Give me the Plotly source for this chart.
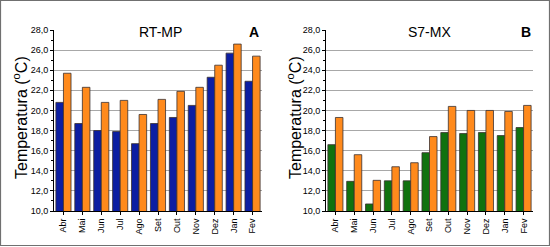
import plotly.graph_objects as go

months = ["Abr", "Mai", "Jun", "Jul", "Ago", "Set", "Out", "Nov", "Dez", "Jan", "Fev"]

rtmp_blue = [20.8, 18.7, 18.0, 17.9, 16.7, 18.7, 19.3, 20.5, 23.3, 25.7, 22.9]
rtmp_orange = [23.7, 22.3, 20.8, 21.0, 19.6, 21.1, 21.9, 22.3, 24.5, 26.6, 25.4]

s7mx_green = [16.6, 12.95, 10.7, 13.0, 13.0, 15.8, 17.8, 17.7, 17.8, 17.5, 18.3]
s7mx_orange = [19.3, 15.6, 13.05, 14.4, 14.8, 17.4, 20.4, 20.0, 20.0, 19.9, 20.5]

y_ticks = [10, 12, 14, 16, 18, 20, 22, 24, 26, 28]

W, H = 550, 247
def px(x):
    return x / W
def py(y):
    return 1 - y / H

BLUE = "#0c1ea2"
ORANGE = "#ff8a1c"
GREEN = "#10720f"
FONT = "Liberation Sans, Arial, sans-serif"

fig = go.Figure()
line = dict(color="#3a3030", width=0.8)
fig.add_trace(go.Bar(x=months, y=rtmp_blue, marker=dict(color=BLUE, line=line), xaxis="x", yaxis="y"))
fig.add_trace(go.Bar(x=months, y=rtmp_orange, marker=dict(color=ORANGE, line=line), xaxis="x", yaxis="y"))
fig.add_trace(go.Bar(x=months, y=s7mx_green, marker=dict(color=GREEN, line=line), xaxis="x2", yaxis="y2"))
fig.add_trace(go.Bar(x=months, y=s7mx_orange, marker=dict(color=ORANGE, line=line), xaxis="x2", yaxis="y2"))

xax = dict(showline=True, linecolor="black", linewidth=1, ticks="outside", ticklen=3,
           tickcolor="black", tickangle=-90, tickfont=dict(size=9, color="black", family=FONT),
           showgrid=False, zeroline=False, fixedrange=True, automargin=False)
yax = dict(range=[10, 28], tickvals=y_ticks, tickformat=".1f", showline=True, linecolor="black",
           linewidth=1, ticks="outside", ticklen=3, tickcolor="black",
           tickfont=dict(size=9, color="black", family=FONT),
           showgrid=True, gridcolor="#a8a8a8", gridwidth=1, zeroline=False,
           minor=dict(ticks="outside", ticklen=2, dtick=1, tickcolor="black", showgrid=False),
           fixedrange=True, automargin=False)

ydom = [py(211), py(30)]
fig.update_layout(
    width=W, height=H, margin=dict(l=0, r=0, t=0, b=0, pad=0),
    paper_bgcolor="white", plot_bgcolor="white",
    separators=",.",
    showlegend=False, barmode="group", bargap=0.2, bargroupgap=0,
    xaxis=dict(domain=[px(54), px(262)], anchor="y", **xax),
    yaxis=dict(domain=ydom, anchor="x", **yax),
    xaxis2=dict(domain=[px(326), px(533)], anchor="y2", **xax),
    yaxis2=dict(domain=ydom, anchor="x2", **yax),
    font=dict(family=FONT, color="black"),
)

ann = [
    dict(text="RT-MP", x=px(160), y=py(32), font=dict(size=14)),
    dict(text="<b>A</b>", x=px(254), y=py(32), font=dict(size=14)),
    dict(text="S7-MX", x=px(429), y=py(32), font=dict(size=14)),
    dict(text="<b>B</b>", x=px(526), y=py(32), font=dict(size=14)),
    dict(text="Temperatura (<sup>o</sup>C)", x=px(20), y=py(118), textangle=-90, font=dict(size=16)),
    dict(text="Temperatura (<sup>o</sup>C)", x=px(294), y=py(118), textangle=-90, font=dict(size=16)),
]
for a in ann:
    fig.add_annotation(xref="paper", yref="paper", xanchor="center", yanchor="middle",
                       showarrow=False, **a)

fig.add_shape(type="rect", xref="paper", yref="paper", x0=px(0.5), x1=px(549.5),
              y0=py(245.5), y1=py(0.5), line=dict(color="#707070", width=1.2))

fig.write_html("out.html", config={"displayModeBar": False},
               post_script="document.body.style.margin='0';document.body.style.overflow='hidden';")
